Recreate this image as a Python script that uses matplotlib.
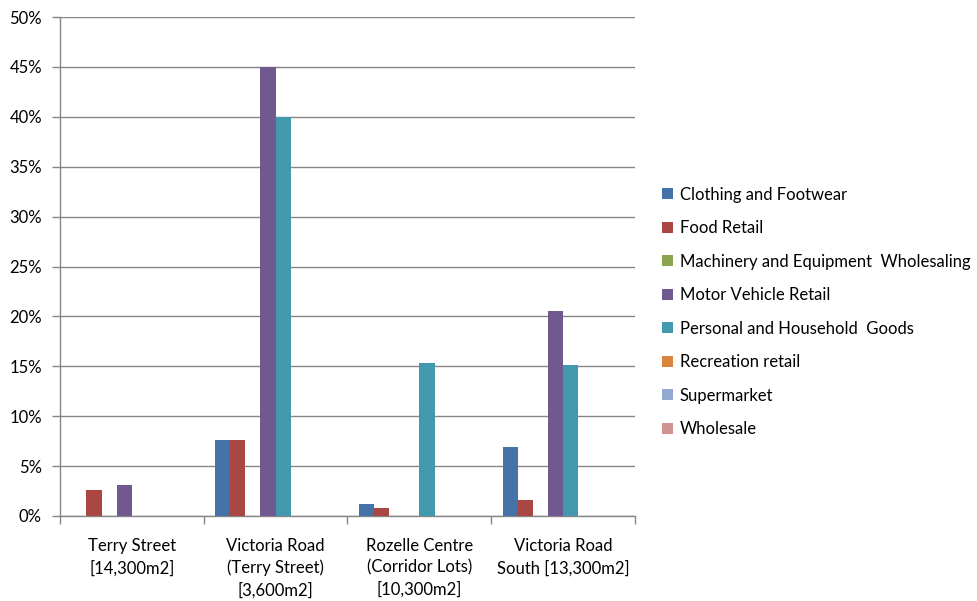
import numpy as np
import matplotlib.pyplot as plt
from matplotlib.patches import Patch
from matplotlib.ticker import FuncFormatter

plt.rcParams['font.family'] = ['Lato', 'DejaVu Sans']

categories = ["Terry Street\n[14,300m2]",
              "Victoria Road\n(Terry Street)\n[3,600m2]",
              "Rozelle Centre\n(Corridor Lots)\n[10,300m2]",
              "Victoria Road\nSouth [13,300m2]"]

series_names = ["Clothing and Footwear", "Food Retail",
                "Machinery and Equipment  Wholesaling", "Motor Vehicle Retail",
                "Personal and Household  Goods", "Recreation retail",
                "Supermarket", "Wholesale"]

clothing = [0.0, 7.6, 1.2, 6.9]
food = [2.6, 7.6, 0.8, 1.6]
machinery = [0.0, 0.0, 0.0, 0.0]
motor = [3.1, 45.0, 0.0, 20.5]
personal = [0.0, 40.0, 15.3, 15.1]
recreation = [0.0, 0.0, 0.0, 0.0]
supermarket = [0.0, 0.0, 0.0, 0.0]
wholesale = [0.0, 0.0, 0.0, 0.0]

series = [clothing, food, machinery, motor, personal, recreation, supermarket, wholesale]
colors = ["#4572A7", "#AA4643", "#89A54E", "#71588F",
          "#4198AF", "#DB843D", "#93A9CF", "#D19392"]

fig = plt.figure(figsize=(9.77, 6.01), dpi=100)
ax = fig.add_axes([60 / 977, 1 - 516 / 601, 575 / 977, 499 / 601])

# excel-style clustered bars: gap width 150% of a bar
n = len(series)
w = 1 / (n + 1.5)
x = np.arange(len(categories))
for i, (vals, c) in enumerate(zip(series, colors)):
    offs = -0.5 + 0.75 * w + (i + 0.5) * w
    ax.bar(x + offs, vals, width=w, color=c, linewidth=0, zorder=3)

grid_c = "#868686"
ax.set_xlim(-0.5, len(categories) - 0.5)
ax.set_ylim(0, 50)
ax.set_yticks(np.arange(0, 51, 5))
ax.yaxis.set_major_formatter(FuncFormatter(lambda v, p: f"{v:.0f}%"))
ax.grid(axis="y", color=grid_c, linewidth=1, zorder=0)

ax.set_xticks(x)
ax.set_xticklabels(categories, linespacing=1.42)
ax.set_xticks(np.arange(-0.5, len(categories), 1), minor=True)
ax.tick_params(axis="x", which="major", length=0, pad=16, labelsize=12, colors="black")
ax.tick_params(axis="x", which="minor", length=6, color=grid_c, width=1)
ax.tick_params(axis="y", length=6, color=grid_c, width=1, pad=7, labelsize=12)

for side in ["top", "right"]:
    ax.spines[side].set_visible(False)
for side in ["left", "bottom"]:
    ax.spines[side].set_color(grid_c)
    ax.spines[side].set_linewidth(1)

handles = [Patch(facecolor=c, label=s) for s, c in zip(series_names, colors)]
fig.legend(handles=handles, loc="upper left", bbox_to_anchor=(655 / 977, 1 - 180 / 601),
           frameon=False, fontsize=12, handlelength=0.65, handleheight=0.65,
           handletextpad=0.45, labelspacing=1.05, borderaxespad=0)

fig.savefig("out.png", dpi=100)
